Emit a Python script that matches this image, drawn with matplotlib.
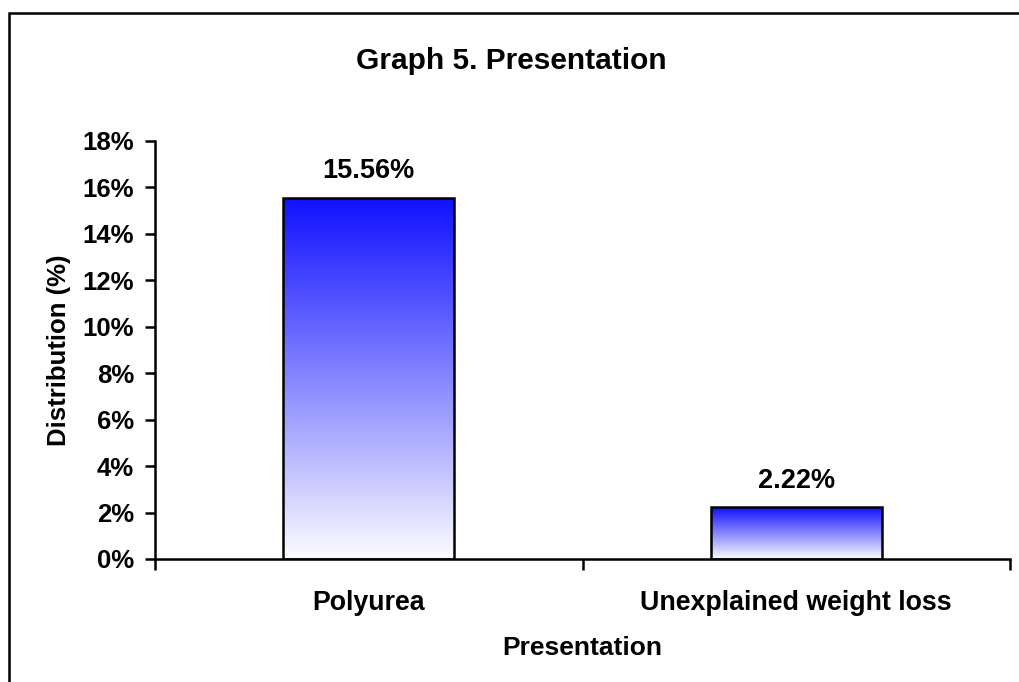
import matplotlib.pyplot as plt
from matplotlib.colors import LinearSegmentedColormap
from matplotlib.patches import Rectangle
from matplotlib.ticker import FixedLocator, PercentFormatter
import numpy as np

categories = ['Polyurea', 'Unexplained weight loss']
values = [15.56, 2.22]
value_labels = ['15.56%', '2.22%']
y_ticks = [0, 2, 4, 6, 8, 10, 12, 14, 16, 18]

plt.rcParams['font.family'] = ['Liberation Sans', 'DejaVu Sans']
plt.rcParams['font.weight'] = 'bold'

fig = plt.figure(figsize=(10.19, 6.82), dpi=100)
ax = fig.add_axes([155 / 1019, 1 - 559 / 682, (1010 - 155) / 1019, (559 - 141) / 682])

# blue-to-white fill, one gradient per bar
grad_cmap = LinearSegmentedColormap.from_list('bluefade', ['#fcfcff', '#1010ff'])
grad = np.linspace(0, 1, 256).reshape(-1, 1)

x = np.arange(len(categories))
bars = ax.bar(x, values, width=0.4, color='none', edgecolor='black', linewidth=1.8, zorder=3)
for bar in bars:
    x0, y0 = bar.get_x(), bar.get_y()
    w, h = bar.get_width(), bar.get_height()
    img = ax.imshow(grad, cmap=grad_cmap, origin='lower', aspect='auto',
                    extent=(x0, x0 + w, y0, y0 + h), zorder=2, interpolation='bilinear')
    img.set_clip_path(bar)

for xi, v, lab in zip(x, values, value_labels):
    ax.annotate(lab, (xi, v), xytext=(0, 19), textcoords='offset points',
                ha='center', va='center', fontsize=19.5, fontweight='bold')

ax.set_xlim(-0.5, len(categories) - 0.5)
ax.set_ylim(0, 18)
ax.set_yticks(y_ticks)
ax.yaxis.set_major_formatter(PercentFormatter(decimals=0))
ax.set_xticks(x)
ax.set_xticklabels(categories)
ax.xaxis.set_minor_locator(FixedLocator(np.arange(-0.5, len(categories), 1.0)))

ax.tick_params(axis='y', direction='out', length=7, width=1.8, labelsize=18.5, pad=8)
ax.tick_params(axis='x', which='major', length=0, labelsize=19.3, pad=22)
ax.tick_params(axis='x', which='minor', direction='out', length=8, width=1.8)

for side in ['top', 'right']:
    ax.spines[side].set_visible(False)
for side in ['left', 'bottom']:
    ax.spines[side].set_linewidth(1.8)

ax.set_xlabel('Presentation', fontsize=19, fontweight='bold', labelpad=15)
ax.set_ylabel('Distribution (%)', fontsize=18.5, fontweight='bold', labelpad=8)

fig.text(0.502, 1 - 61 / 682, 'Graph 5. Presentation', ha='center', va='center',
         fontsize=21.5, fontweight='bold')

# chart area frame (runs off the right and bottom edges)
fig.patches.append(Rectangle((9 / 1019, -0.1), 1.2, 1.1 - 13 / 682, transform=fig.transFigure,
                             fill=False, edgecolor='black', linewidth=1.8, zorder=0))

fig.savefig('out.png', dpi=100)
